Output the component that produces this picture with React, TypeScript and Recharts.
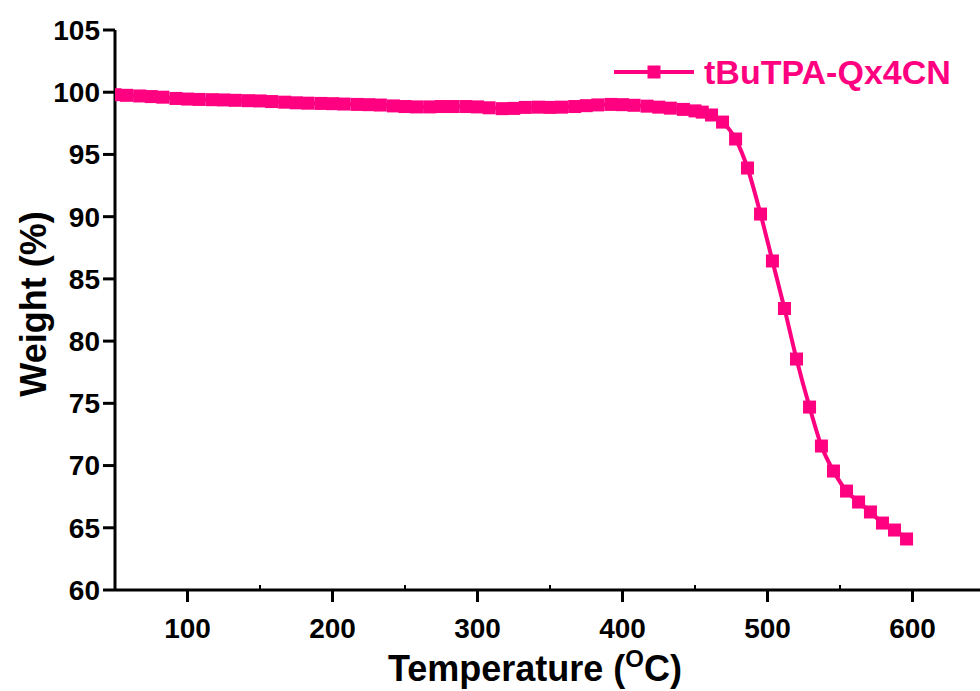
import React from 'react';
import { Legend, Line, LineChart, XAxis, YAxis } from 'recharts';

const PINK = '#FF0080';

const temps = [
  50, 58, 67, 75, 83, 92, 100, 108, 117, 125, 133, 142, 150, 158, 167, 175, 183, 192, 200, 208,
  217, 225, 233, 242, 250, 258, 267, 275, 283, 292, 300, 308, 317, 325, 333, 342, 350, 358, 367, 375,
  383, 392, 400, 408, 417, 425, 433, 442, 450, 455, 461.4, 469, 478, 486.2, 495.2, 503.4, 511.7, 520,
  529, 537.2, 545.5, 554.5, 562.8, 571, 579.3, 587.6, 595.9,
];

const weights = [
  99.8, 99.75, 99.7, 99.65, 99.6, 99.5, 99.45, 99.42, 99.4, 99.38, 99.35, 99.32, 99.3, 99.25, 99.2, 99.15, 99.12, 99.1, 99.08, 99.05,
  99.02, 99.0, 98.97, 98.9, 98.85, 98.82, 98.82, 98.85, 98.85, 98.85, 98.82, 98.75, 98.68, 98.7, 98.78, 98.8, 98.78, 98.8, 98.85, 98.92,
  98.98, 99.02, 99.0, 98.95, 98.88, 98.8, 98.72, 98.62, 98.5, 98.4, 98.17, 97.6, 96.24, 93.91, 90.21, 86.44, 82.62, 78.56,
  74.7, 71.57, 69.56, 67.95, 67.07, 66.27, 65.38, 64.82, 64.1,
];

const xMajor = [100, 200, 300, 400, 500, 600];
const xMinor = [50, 150, 250, 350, 450, 550, 650];
const yMajor = [60, 65, 70, 75, 80, 85, 90, 95, 100, 105];
const yMinor = [62.5, 67.5, 72.5, 77.5, 82.5, 87.5, 92.5, 97.5, 102.5];

const seriesName = 'tBuTPA-Qx4CN';

const data = temps.map((t, i) => ({ t, w: weights[i] }));

const FONT = '"Liberation Sans", Arial, sans-serif';
const tickStyle = { fill: '#000', fontSize: 28, fontWeight: 700, fontFamily: FONT };
const blank = () => '';

const SquareDot = (props: any) => {
  const { cx, cy, index } = props;
  if (cx == null || cy == null) return <g key={index} />;
  return <rect key={index} x={cx - 6.5} y={cy - 6.5} width={13} height={13} fill={PINK} />;
};

const LegendBox = () => (
  <div style={{ display: 'flex', alignItems: 'center', fontFamily: FONT }}>
    <svg width={84} height={20}>
      <line x1={2} y1={10} x2={82} y2={10} stroke={PINK} strokeWidth={4} />
      <rect x={35.5} y={3.5} width={13} height={13} fill={PINK} />
    </svg>
    <span style={{ color: PINK, fontSize: 34, fontWeight: 700, marginLeft: 8, lineHeight: '40px' }}>{seriesName}</span>
  </div>
);

const XTitle = (props: any) => {
  const vb = props.viewBox;
  const cx = vb.x + vb.width / 2 - 15;
  return (
    <text x={cx} y={681} textAnchor="middle" fontFamily={FONT} fontSize={36} fontWeight={700} fill="#000">
      Temperature (<tspan fontSize={24} dy={-14}>O</tspan><tspan dy={14}>C)</tspan>
    </text>
  );
};

const YTitle = (props: any) => {
  const vb = props.viewBox;
  const cy = vb.y + vb.height / 2 - 6;
  return (
    <text
      x={46}
      y={cy}
      transform={`rotate(-90, 46, ${cy})`}
      textAnchor="middle"
      fontFamily={FONT}
      fontSize={36}
      fontWeight={700}
      fill="#000"
    >
      Weight (%)
    </text>
  );
};

export default function App() {
  return (
    <div style={{ position: 'absolute', left: 0, top: 0, width: 980, height: 691, overflow: 'hidden', background: '#fff' }}>
      <LineChart width={1000} height={691} data={data} margin={{ top: 30, right: 15, left: 0, bottom: 0 }}>
        <XAxis
          xAxisId="minor"
          dataKey="t"
          type="number"
          domain={[50, 650]}
          ticks={xMinor}
          orientation="bottom"
          mirror
          tickFormatter={blank}
          axisLine={false}
          tickLine={{ stroke: '#000', strokeWidth: 2 }}
          tickSize={5}
        />
        <XAxis
          dataKey="t"
          type="number"
          domain={[50, 650]}
          ticks={xMajor}
          height={101}
          allowDataOverflow
          axisLine={{ stroke: '#000', strokeWidth: 3 }}
          tickLine={{ stroke: '#000', strokeWidth: 3 }}
          tickSize={12}
          tickMargin={16}
          tick={tickStyle}
          label={<XTitle />}
        />
        <XAxis
          xAxisId="top"
          dataKey="t"
          type="number"
          domain={[50, 650]}
          orientation="top"
          height={0}
          tick={false}
          tickLine={false}
          axisLine={{ stroke: '#000', strokeWidth: 3 }}
        />
        <YAxis
          yAxisId="minor"
          type="number"
          domain={[60, 105]}
          ticks={yMinor}
          orientation="left"
          mirror
          tickFormatter={blank}
          axisLine={false}
          tickLine={{ stroke: '#000', strokeWidth: 2 }}
          tickSize={4}
        />
        <YAxis
          type="number"
          domain={[60, 105]}
          ticks={yMajor}
          width={115}
          axisLine={{ stroke: '#000', strokeWidth: 3 }}
          tickLine={{ stroke: '#000', strokeWidth: 3 }}
          tickSize={12}
          tickMargin={3}
          tick={tickStyle}
          label={<YTitle />}
        />
        <Legend
          layout="horizontal"
          verticalAlign="middle"
          align="center"
          content={<LegendBox />}
          wrapperStyle={{ position: 'absolute', left: 612, top: 52, width: 'auto', height: 'auto' }}
        />
        <Line
          dataKey="w"
          name={seriesName}
          type="monotone"
          stroke={PINK}
          strokeWidth={4}
          dot={SquareDot}
          activeDot={false}
          isAnimationActive={false}
        />
      </LineChart>
    </div>
  );
}
